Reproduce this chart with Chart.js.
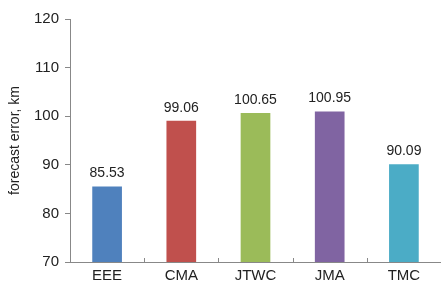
<!DOCTYPE html>
<html>
<head>
<meta charset="utf-8">
<script src="https://cdn.jsdelivr.net/npm/chart.js@4"></script>
<style>
  html, body { margin: 0; padding: 0; background: #fff; }
  #wrap { width: 441px; height: 287px; }
</style>
</head>
<body>
<div id="wrap"><canvas id="errChart" width="441" height="287"></canvas></div>
<script>
const centres = ['EEE', 'CMA', 'JTWC', 'JMA', 'TMC'];
const errors = [85.53, 99.06, 100.65, 100.95, 90.09];
const barColors = ['#4F81BD', '#C0504D', '#9BBB59', '#8064A2', '#4BACC6'];
const yTicks = [70, 80, 90, 100, 110, 120];

const FONT = '"Liberation Sans", Arial, sans-serif';

// value labels above each bar
const valueLabels = {
    id: 'valueLabels',
    afterDatasetsDraw(chart) {
        const ctx = chart.ctx;
        const meta = chart.getDatasetMeta(0);
        ctx.save();
        ctx.font = '14px ' + FONT;
        ctx.fillStyle = '#222';
        ctx.textAlign = 'center';
        ctx.textBaseline = 'bottom';
        meta.data.forEach((bar, i) => {
            ctx.fillText(errors[i].toFixed(2), bar.x, bar.y - 6);
        });
        ctx.restore();
    }
};

// small upward tick marks between categories on the x axis
const catTicks = {
    id: 'catTicks',
    afterDraw(chart) {
        const ctx = chart.ctx;
        const x = chart.scales.x;
        const bottom = chart.chartArea.bottom;
        ctx.save();
        ctx.strokeStyle = '#888';
        ctx.lineWidth = 1;
        for (let i = 1; i < centres.length; i++) {
            const px = Math.round((x.getPixelForValue(i - 1) + x.getPixelForValue(i)) / 2) + 0.5;
            ctx.beginPath();
            ctx.moveTo(px, bottom);
            ctx.lineTo(px, bottom - 4);
            ctx.stroke();
        }
        ctx.restore();
    }
};

new Chart(document.getElementById('errChart').getContext('2d'), {
    type: 'bar',
    data: {
        labels: centres,
        datasets: [{
            data: errors,
            backgroundColor: barColors,
            borderWidth: 0,
            barPercentage: 0.4,
            categoryPercentage: 1.0
        }]
    },
    options: {
        responsive: false,
        animation: false,
        layout: { padding: { top: 19, right: 0, left: 0, bottom: 0 } },
        plugins: { legend: { display: false }, tooltip: { enabled: false } },
        scales: {
            x: {
                grid: { display: false, drawTicks: false, tickLength: 0 },
                border: { color: '#888' },
                ticks: {
                    color: '#222',
                    font: { family: FONT, size: 15 },
                    padding: 5
                },
                afterFit(scale) { scale.height = 25; }
            },
            y: {
                min: 70,
                max: 120,
                afterBuildTicks(scale) { scale.ticks = yTicks.map(v => ({ value: v })); },
                grid: { drawOnChartArea: false, tickLength: 5, color: '#888' },
                border: { color: '#888' },
                ticks: {
                    color: '#222',
                    font: { family: FONT, size: 15 },
                    padding: 6
                },
                title: {
                    display: true,
                    text: 'forecast error, km',
                    color: '#222',
                    font: { family: FONT, size: 14 },
                    padding: { top: 7, bottom: 4 }
                },
                afterFit(scale) { scale.width = 70; }
            }
        }
    },
    plugins: [valueLabels, catTicks]
});
</script>
</body>
</html>
